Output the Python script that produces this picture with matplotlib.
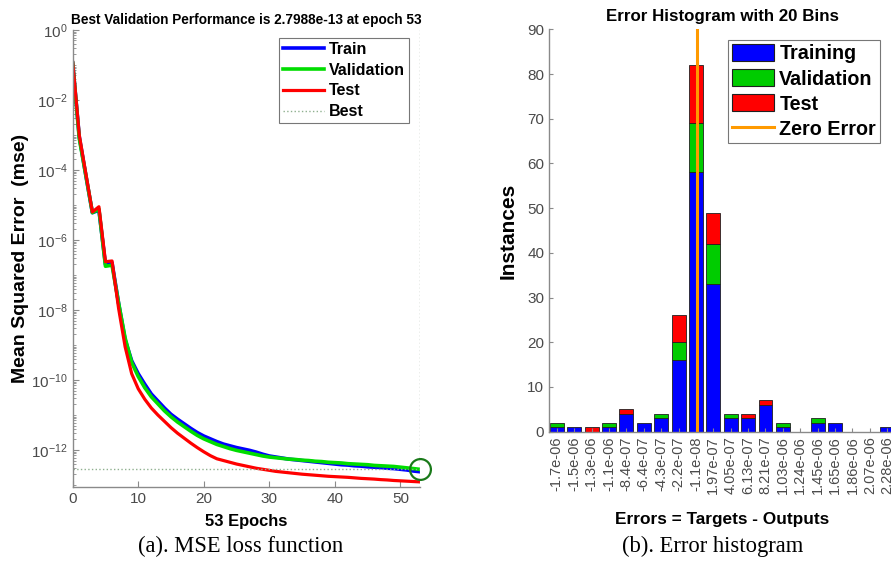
import numpy as np
import matplotlib
matplotlib.use("Agg")
import matplotlib.pyplot as plt
from matplotlib.ticker import FixedLocator, LogLocator, NullFormatter, LogFormatterMathtext
from matplotlib.lines import Line2D
from matplotlib.patches import Patch

plt.rcParams['font.family'] = ['Liberation Sans', 'DejaVu Sans']

# ---------------- training record (log10 of MSE per epoch) ----------------
epochs = list(range(0, 54))
train_log_mse = [-0.95, -3.05, -4.15, -5.22, -5.15, -6.70, -6.65, -7.80, -8.85, -9.45,
                 -9.82, -10.12, -10.40, -10.60, -10.80, -10.98, -11.12, -11.25, -11.38, -11.50,
                 -11.60, -11.68, -11.76, -11.83, -11.88, -11.93, -11.97, -12.01, -12.06, -12.12,
                 -12.17, -12.20, -12.23, -12.26, -12.28, -12.30, -12.32, -12.34, -12.36, -12.38,
                 -12.40, -12.42, -12.43, -12.45, -12.46, -12.48, -12.49, -12.50, -12.52, -12.53,
                 -12.55, -12.57, -12.60, -12.62]
val_log_mse = [-0.95, -3.10, -4.15, -5.22, -5.12, -6.75, -6.72, -7.80, -8.80, -9.50,
               -9.90, -10.22, -10.48, -10.68, -10.88, -11.05, -11.20, -11.33, -11.46, -11.58,
               -11.68, -11.76, -11.84, -11.90, -11.96, -12.01, -12.05, -12.09, -12.13, -12.17,
               -12.20, -12.22, -12.24, -12.26, -12.27, -12.29, -12.30, -12.32, -12.33, -12.35,
               -12.36, -12.37, -12.39, -12.40, -12.41, -12.42, -12.44, -12.45, -12.46, -12.47,
               -12.49, -12.51, -12.53, -12.553]
test_log_mse = [-0.92, -3.00, -4.10, -5.20, -5.05, -6.62, -6.60, -7.95, -9.05, -9.82,
                -10.25, -10.55, -10.80, -11.00, -11.18, -11.36, -11.52, -11.66, -11.80, -11.93,
                -12.05, -12.16, -12.25, -12.30, -12.35, -12.40, -12.44, -12.48, -12.52, -12.55,
                -12.58, -12.61, -12.63, -12.65, -12.67, -12.69, -12.705, -12.72, -12.735, -12.75,
                -12.76, -12.77, -12.78, -12.795, -12.81, -12.82, -12.83, -12.845, -12.855, -12.87,
                -12.88, -12.89, -12.90, -12.91]
best_epoch = 53
best_perf = 2.7988e-13

# ---------------- error histogram (20 bins) ----------------
bin_labels = ['-1.7e-06', '-1.5e-06', '-1.3e-06', '-1.1e-06', '-8.4e-07', '-6.4e-07',
              '-4.3e-07', '-2.2e-07', '-1.1e-08', '1.97e-07', '4.05e-07', '6.13e-07',
              '8.21e-07', '1.03e-06', '1.24e-06', '1.45e-06', '1.65e-06', '1.86e-06',
              '2.07e-06', '2.28e-06']
hist_training = [1, 1, 0, 1, 4, 2, 3, 16, 58, 33, 3, 3, 6, 1, 0, 2, 2, 0, 0, 1]
hist_validation = [1, 0, 0, 1, 0, 0, 1, 4, 11, 9, 1, 0, 0, 1, 0, 1, 0, 0, 0, 0]
hist_test = [0, 0, 1, 0, 1, 0, 0, 6, 13, 7, 0, 1, 1, 0, 0, 0, 0, 0, 0, 0]

TICK_GRAY = '#4a4a4a'
SPINE_GRAY = '#8a8a8a'

fig = plt.figure(figsize=(8.91, 5.65), dpi=100)

# ======================= (a) performance curve =======================
ax1 = fig.add_axes([0.0816, 0.138, 0.3898, 0.809])
ep = np.array(epochs)
ax1.semilogy(ep, 10.0 ** np.array(train_log_mse), color='#0000ff', lw=2.6, label='Train')
ax1.semilogy(ep, 10.0 ** np.array(val_log_mse), color='#00dd00', lw=2.6, label='Validation')
ax1.semilogy(ep, 10.0 ** np.array(test_log_mse), color='#ff0000', lw=2.3, label='Test')
best_color = '#8fb08f'
ax1.axhline(best_perf, color=best_color, ls=':', lw=1.0, label='Best')
ax1.axvline(best_epoch, color='#9aa89a', ls=':', lw=1.0)
ax1.plot([best_epoch], [best_perf], 'o', mfc='none', mec='#1a7a1a', mew=1.6, ms=15,
         clip_on=False, zorder=5)

ax1.set_xlim(0, 53)
ax1.set_ylim(8.77e-14, 1.0)
ax1.yaxis.set_major_locator(FixedLocator([10.0 ** k for k in range(-12, 1, 2)]))
ax1.yaxis.set_major_formatter(LogFormatterMathtext())
ax1.yaxis.set_minor_locator(LogLocator(base=10, subs=np.arange(1, 10), numticks=100))
ax1.yaxis.set_minor_formatter(NullFormatter())
ax1.set_xticks([0, 10, 20, 30, 40, 50])

for side in ('top', 'right'):
    ax1.spines[side].set_visible(False)
for side in ('left', 'bottom'):
    ax1.spines[side].set_color(SPINE_GRAY)
    ax1.spines[side].set_linewidth(1.0)
ax1.tick_params(which='both', direction='in', color=SPINE_GRAY, labelcolor=TICK_GRAY,
                labelsize=11)
ax1.tick_params(which='major', length=4)
ax1.tick_params(which='minor', length=2)

ax1.set_title(f'Best Validation Performance is {best_perf:.4e} at epoch {best_epoch}',
              fontsize=9.8, fontweight='bold', pad=4)
ax1.set_ylabel('Mean Squared Error  (mse)', fontsize=14, fontweight='bold')
ax1.yaxis.set_label_coords(-0.125, 0.5)
ax1.set_xlabel(f'{best_epoch} Epochs', fontsize=11.9, fontweight='bold')
ax1.xaxis.set_label_coords(0.5, -0.06)

leg1 = ax1.legend(loc='upper right', bbox_to_anchor=(0.968, 0.9825),
                  prop={'weight': 'bold', 'size': 11.5}, frameon=True, fancybox=False,
                  edgecolor='#555555', handlelength=2.6, handletextpad=0.3,
                  borderpad=0.25, labelspacing=0.36, borderaxespad=0)
leg1.get_frame().set_linewidth(0.8)

# ======================= (b) error histogram =======================
ax2 = fig.add_axes([0.6162, 0.236, 0.3883, 0.712])
idx = np.arange(len(bin_labels))
tr = np.array(hist_training)
va = np.array(hist_validation)
te = np.array(hist_test)
bw = 0.8
ek = dict(edgecolor='#202020', linewidth=0.6)
m = tr > 0
ax2.bar(idx[m], tr[m], width=bw, color='#0000ff', **ek)
m = va > 0
ax2.bar(idx[m], va[m], width=bw, bottom=tr[m], color='#00cc00', **ek)
m = te > 0
ax2.bar(idx[m], te[m], width=bw, bottom=(tr + va)[m], color='#ff0000', **ek)

centers = np.array([float(s) for s in bin_labels])
zero_pos = np.interp(0.0, centers, idx)
ax2.plot([zero_pos, zero_pos], [0, 90], color='#ff9a00', lw=2.2)

ax2.set_xlim(-0.45, 19.45)
ax2.set_ylim(0, 90)
ax2.set_yticks(range(0, 91, 10))
ax2.set_xticks(idx)
ax2.set_xticklabels(bin_labels, rotation=90, fontsize=10.5)
for side in ('top', 'right'):
    ax2.spines[side].set_visible(False)
for side in ('left', 'bottom'):
    ax2.spines[side].set_color(SPINE_GRAY)
    ax2.spines[side].set_linewidth(1.0)
ax2.tick_params(axis='y', labelsize=11)
ax2.tick_params(which='both', direction='in', color=SPINE_GRAY, labelcolor=TICK_GRAY, length=3)

ax2.set_title('Error Histogram with 20 Bins', fontsize=12.2, fontweight='bold', pad=6)
ax2.set_ylabel('Instances', fontsize=15, fontweight='bold')
ax2.yaxis.set_label_coords(-0.092, 0.5)
ax2.set_xlabel('Errors = Targets - Outputs', fontsize=12.4, fontweight='bold')
ax2.xaxis.set_label_coords(0.5, -0.2)

handles = [Patch(facecolor='#0000ff', edgecolor='#202020', lw=0.8, label='Training'),
           Patch(facecolor='#00cc00', edgecolor='#202020', lw=0.8, label='Validation'),
           Patch(facecolor='#ff0000', edgecolor='#202020', lw=0.8, label='Test'),
           Line2D([0], [0], color='#ff9a00', lw=2.2, label='Zero Error')]
leg2 = ax2.legend(handles=handles, loc='upper right', bbox_to_anchor=(0.9566, 0.9734),
                  prop={'weight': 'bold', 'size': 14.2}, frameon=True, fancybox=False,
                  edgecolor='#555555', handlelength=2.15, handleheight=0.95,
                  handletextpad=0.25, borderpad=0.2, labelspacing=0.3, borderaxespad=0)
leg2.get_frame().set_linewidth(0.8)

# ---------------- captions ----------------
fig.text(0.27, 0.033, '(a). MSE loss function', ha='center', va='center',
         family=['Liberation Serif', 'DejaVu Serif'], fontsize=16.3)
fig.text(0.80, 0.033, '(b). Error histogram', ha='center', va='center',
         family=['Liberation Serif', 'DejaVu Serif'], fontsize=16.3)

fig.savefig('out.png', dpi=100)
